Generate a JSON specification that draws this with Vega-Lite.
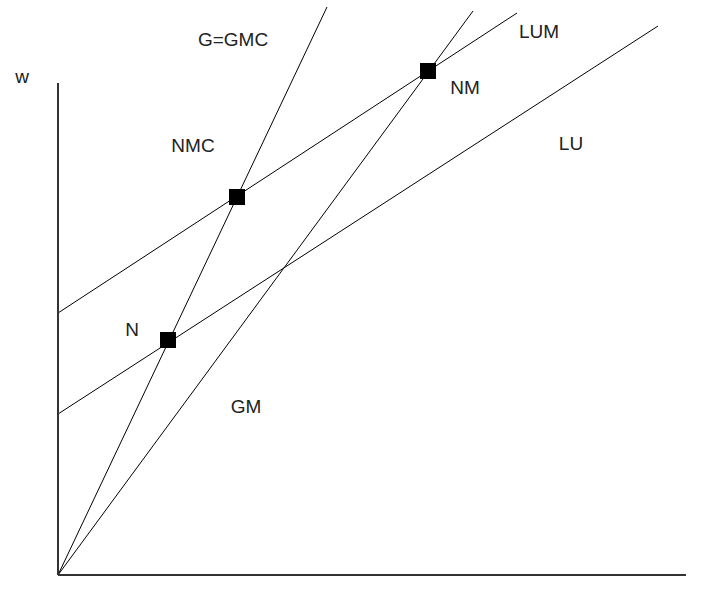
{
  "$schema": "https://vega.github.io/schema/vega-lite/v6.json",
  "width": 628,
  "height": 575,
  "autosize": "none",
  "padding": {"left": 58, "top": 0, "right": 33, "bottom": 24},
  "background": "white",
  "config": {"view": {"stroke": null}},
  "datasets": {
    "lines": [
      {"curve": "G=GMC", "x": 0, "y": 0},
      {"curve": "G=GMC", "x": 269, "y": 568},
      {"curve": "GM", "x": 0, "y": 0},
      {"curve": "GM", "x": 415, "y": 564},
      {"curve": "LUM", "x": 0, "y": 262},
      {"curve": "LUM", "x": 459, "y": 562},
      {"curve": "LU", "x": 0, "y": 161},
      {"curve": "LU", "x": 600, "y": 549}
    ],
    "axes": [
      {"axis": "w", "x": 0, "y": 0, "x2": 0, "y2": 492},
      {"axis": "L", "x": 0, "y": 0, "x2": 628, "y2": 0}
    ],
    "points": [
      {"name": "N", "x": 110, "y": 235},
      {"name": "NMC", "x": 179, "y": 378},
      {"name": "NM", "x": 370, "y": 504}
    ],
    "labels": [
      {"label": "w", "x": -36, "y": 498},
      {"label": "G=GMC", "x": 175, "y": 535},
      {"label": "NMC", "x": 135, "y": 429},
      {"label": "LUM", "x": 481, "y": 543},
      {"label": "NM", "x": 407, "y": 487},
      {"label": "LU", "x": 513, "y": 431},
      {"label": "N", "x": 74, "y": 245},
      {"label": "GM", "x": 188, "y": 168}
    ]
  },
  "layer": [
    {
      "data": {"name": "lines"},
      "mark": {"type": "line", "color": "#000000", "strokeWidth": 1, "clip": false},
      "encoding": {
        "x": {"field": "x", "type": "quantitative", "scale": {"domain": [0, 628], "nice": false, "zero": false}, "axis": null},
        "y": {"field": "y", "type": "quantitative", "scale": {"domain": [0, 575], "nice": false, "zero": false}, "axis": null},
        "detail": {"field": "curve"}
      }
    },
    {
      "data": {"name": "axes"},
      "mark": {"type": "rule", "color": "#333333", "strokeWidth": 2, "clip": false},
      "encoding": {
        "x": {"field": "x", "type": "quantitative"},
        "y": {"field": "y", "type": "quantitative"},
        "x2": {"field": "x2"},
        "y2": {"field": "y2"}
      }
    },
    {
      "data": {"name": "points"},
      "mark": {"type": "point", "shape": "square", "filled": true, "color": "#000000", "size": 256, "opacity": 1, "clip": false},
      "encoding": {
        "x": {"field": "x", "type": "quantitative"},
        "y": {"field": "y", "type": "quantitative"}
      }
    },
    {
      "data": {"name": "labels"},
      "mark": {"type": "text", "font": "Liberation Sans", "fontSize": 19, "color": "#222222", "align": "center", "baseline": "middle", "clip": false},
      "encoding": {
        "x": {"field": "x", "type": "quantitative"},
        "y": {"field": "y", "type": "quantitative"},
        "text": {"field": "label"}
      }
    }
  ]
}
